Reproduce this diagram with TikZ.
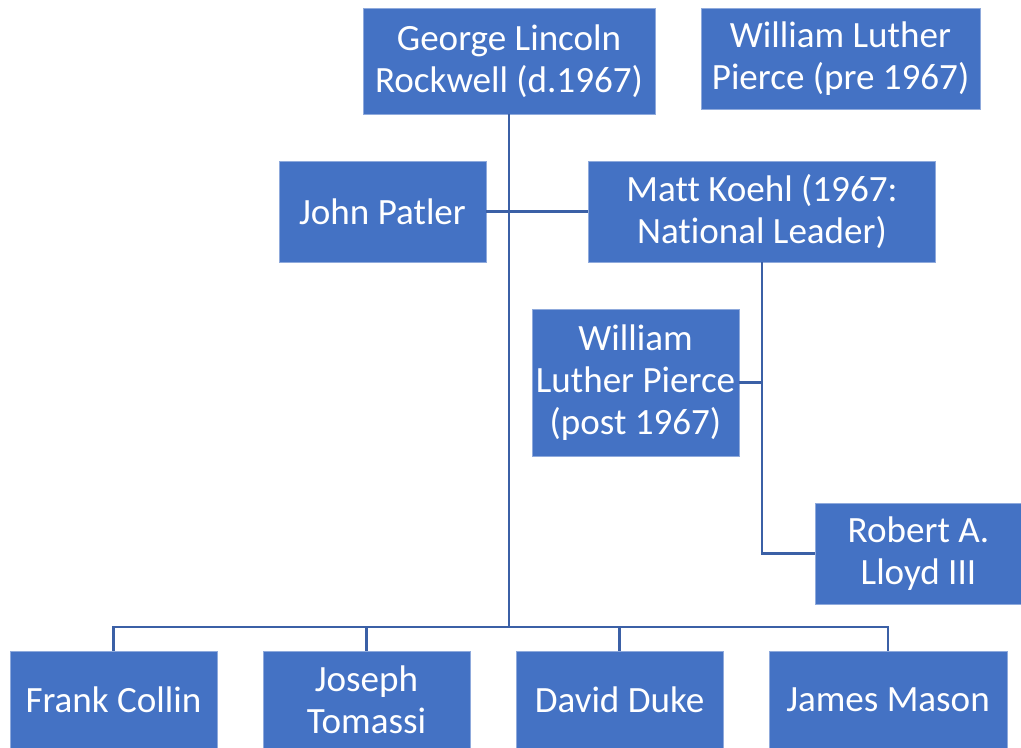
\documentclass[tikz,border=0pt]{standalone}
\usepackage{fontspec}
\setmainfont[Ligatures=NoCommon]{Carlito}
\usepackage{tikz}
\usetikzlibrary{calc}
\definecolor{boxblue}{HTML}{4472C4}
\definecolor{boxedge}{HTML}{8FAADC}
\definecolor{linkblue}{HTML}{3B60A6}
\tikzset{
  person/.style={fill=boxblue, draw=boxedge, line width=0.4pt, text=white,
    font=\fontsize{27.8}{31.5}\selectfont, align=center, inner sep=0pt},
  link/.style={draw=linkblue, line width=2.2pt}
}

\begin{document}
\begin{tikzpicture}[x=0.75pt,y=-0.75pt]
\useasboundingbox (0,0) rectangle (1021,748);
\node[person, minimum width=292*0.75pt, minimum height=106*0.75pt] (rockwell) at (509,61) {George Lincoln\\Rockwell (d.1967)};
\node[person, minimum width=279*0.75pt, minimum height=101*0.75pt] (pierceA) at (840.5,58.5) {William Luther\\Pierce (pre 1967)};
\node[person, minimum width=207*0.75pt, minimum height=101*0.75pt] (patler) at (382.5,211.5) {John Patler};
\node[person, minimum width=347*0.75pt, minimum height=101*0.75pt] (koehl) at (762,211.5) {Matt Koehl (1967:\\National Leader)};
\node[person, minimum width=207*0.75pt, minimum height=147*0.75pt] (pierceB) at (635.5,382.5) {William\\Luther Pierce\\(post 1967)};
\node[person, minimum width=207*0.75pt, minimum height=101*0.75pt] (lloyd) at (918.5,553.5) {Robert A.\\Lloyd III};

% bottom row
\node[person, minimum width=207*0.75pt, minimum height=98*0.75pt] (collin) at (113.5,700) {Frank Collin};
\node[person, minimum width=207*0.75pt, minimum height=98*0.75pt] (tomassi) at (366.5,700) {Joseph\\Tomassi};
\node[person, minimum width=207*0.75pt, minimum height=98*0.75pt] (duke) at (619.5,700) {David Duke};
\node[person, minimum width=238*0.75pt, minimum height=98*0.75pt] (mason) at (888,700) {James Mason};

\coordinate (bus) at (509,627);
\draw[link] (rockwell.south) -- (bus);
\draw[link] (patler.east) -- (koehl.west);
\draw[link] (koehl.south) |- (lloyd.west);
\draw[link] (pierceB.east) -- (pierceB.east -| koehl.south);
\draw[link] (collin.north) -- (collin.north |- bus) -- (mason.north |- bus) -- (mason.north);
\draw[link] (tomassi.north) -- (tomassi.north |- bus);
\draw[link] (duke.north) -- (duke.north |- bus);
\end{tikzpicture}
\end{document}
